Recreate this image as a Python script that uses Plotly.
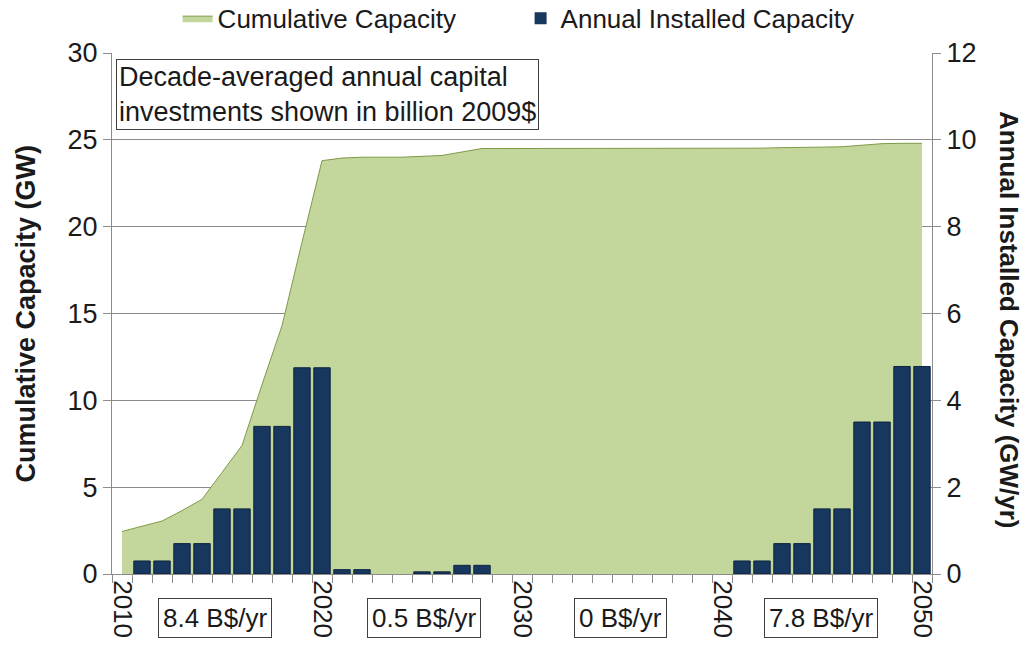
import plotly.graph_objects as go

# years on the category axis
years = list(range(2010, 2051))

# cumulative capacity (GW), left axis
cumulative_gw = [2.45, 2.75, 3.05, 3.65, 4.3, 5.85, 7.4, 10.9, 14.3, 19.1,
                 23.8, 23.95, 24.0, 24.0, 24.0, 24.05, 24.1, 24.3, 24.5, 24.5,
                 24.5, 24.5, 24.5, 24.5, 24.5, 24.5, 24.5, 24.5, 24.5, 24.5,
                 24.5, 24.5, 24.52, 24.55, 24.55, 24.58, 24.6, 24.7, 24.78, 24.8,
                 24.8]

# annual installed capacity (GW/yr), right axis
annual_gw = [0, 0.3, 0.3, 0.7, 0.7, 1.5, 1.5, 3.4, 3.4, 4.75,
             4.75, 0.1, 0.1, 0, 0, 0.05, 0.05, 0.2, 0.2, 0,
             0, 0, 0, 0, 0, 0, 0, 0, 0, 0,
             0, 0.3, 0.3, 0.7, 0.7, 1.5, 1.5, 3.5, 3.5, 4.78,
             4.78]

decade_ticks = [2010, 2020, 2030, 2040, 2050]
decade_invest = ["8.4 B$/yr", "0.5 B$/yr", "0 B$/yr", "7.8 B$/yr"]
invest_x = [0.1256, 0.3799, 0.6207, 0.8646]

FONT = "Arial, Liberation Sans, sans-serif"
GRAY = "#8c8c8c"

fig = go.Figure()
fig.add_trace(go.Scatter(x=years, y=cumulative_gw, name="Cumulative Capacity",
                         mode="lines", fill="tozeroy", fillcolor="#c3d69b",
                         line=dict(color="#7f9a48", width=1)))
# no outline on empty years
bar_edge = [1 if v > 0 else 0 for v in annual_gw]
fig.add_trace(go.Bar(x=years, y=annual_gw, name="Annual Installed Capacity",
                     yaxis="y2", marker=dict(color="#17375e",
                                             line=dict(color="#0c2340", width=bar_edge))))

fig.update_layout(
    width=1024, height=652,
    margin=dict(l=112, r=92, t=53, b=78, autoexpand=False),
    paper_bgcolor="white", plot_bgcolor="white",
    font=dict(family=FONT, size=26, color="#1a1a1a"),
    bargap=0.18,
    legend=dict(orientation="h", x=0.08, xanchor="left",
                yref="container", y=0.972, yanchor="middle",
                entrywidth=298, itemwidth=30,
                font=dict(size=26), bgcolor="rgba(0,0,0,0)"),
    xaxis=dict(range=[2009.5, 2050.5], tickvals=decade_ticks,
               ticktext=[str(t) for t in decade_ticks], tickangle=90,
               ticks="", showgrid=False, showline=True, linecolor=GRAY,
               tickfont=dict(size=26), automargin=False,
               minor=dict(tick0=2009.5, dtick=1, ticks="outside",
                          ticklen=8, tickcolor=GRAY, showgrid=False)),
    yaxis=dict(range=[0, 30], dtick=5, showgrid=True, gridcolor=GRAY,
               showline=True, linecolor=GRAY, ticks="outside", ticklen=8,
               tickcolor=GRAY, zeroline=False, tickfont=dict(size=27),
               automargin=False),
    yaxis2=dict(range=[0, 12], dtick=2, overlaying="y", side="right",
                showgrid=False, showline=True, linecolor=GRAY,
                ticks="outside", ticklen=8, tickcolor=GRAY, zeroline=False,
                tickfont=dict(size=27), automargin=False),
)

fig.add_annotation(text="<b>Cumulative Capacity (GW)</b>",
                   xref="paper", yref="paper", x=-0.1049, y=0.5,
                   xanchor="center", yanchor="middle",
                   textangle=-90, showarrow=False, font=dict(size=27))
fig.add_annotation(text="<b>Annual Installed Capacity (GW/yr)</b>",
                   xref="paper", yref="paper", x=1.0939, y=0.4875,
                   xanchor="center", yanchor="middle",
                   textangle=90, showarrow=False, font=dict(size=26))

fig.add_annotation(text="Decade-averaged annual capital<br>investments shown in billion 2009$",
                   xref="paper", yref="paper", x=0.005, y=0.9885,
                   xanchor="left", yanchor="top", align="left", showarrow=False,
                   bgcolor="white", bordercolor="#404040", borderwidth=1,
                   borderpad=2, font=dict(size=27))

for label, xp in zip(decade_invest, invest_x):
    fig.add_annotation(text=label, xref="paper", yref="paper", x=xp, y=-0.0854,
                       xanchor="center", yanchor="middle",
                       showarrow=False, bgcolor="white", bordercolor="#404040",
                       borderwidth=1, borderpad=4, font=dict(size=26))

fig.write_html("out.html", config={"displayModeBar": False},
               post_script="document.body.style.margin='0';")
